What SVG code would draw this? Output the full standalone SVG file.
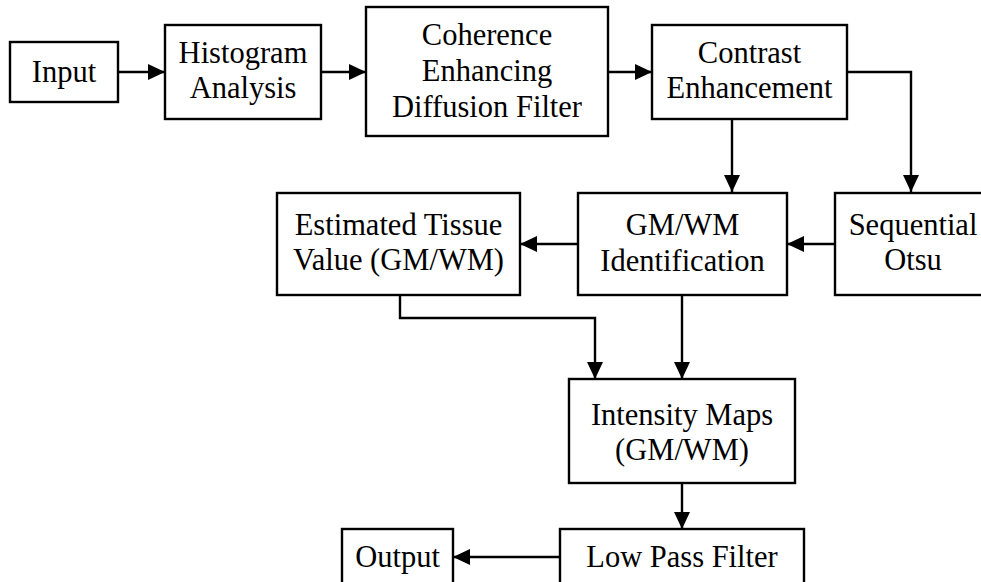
<svg xmlns="http://www.w3.org/2000/svg" width="981" height="582" viewBox="0 0 981 582">
  <defs>
    <marker id="arr" markerUnits="userSpaceOnUse" markerWidth="18" markerHeight="16" refX="17" refY="8" orient="auto">
      <path d="M0,0 L17,8 L0,16 Z" fill="#000"/>
    </marker>
    <style>
      rect { fill: #fff; stroke: #000; stroke-width: 2.4; }
      text { font-family: "Liberation Serif", "Times New Roman", serif; font-size: 30.5px; fill: #000; text-anchor: middle; }
      .c { fill: none; stroke: #000; stroke-width: 2.4; marker-end: url(#arr); }
    </style>
  </defs>
  <rect x="0" y="0" width="981" height="582" style="stroke:none;fill:#fff"/>
  <g id="connectors">
    <path class="c" d="M118,72 H165"/>
    <path class="c" d="M321,72 H366"/>
    <path class="c" d="M608,72 H652"/>
    <path class="c" d="M732,119 V192"/>
    <path class="c" d="M847,72 H911 V192"/>
    <path class="c" d="M578,244 H520"/>
    <path class="c" d="M835,244 H787"/>
    <path class="c" d="M400,295 V318 H595 V379"/>
    <path class="c" d="M682,295 V379"/>
    <path class="c" d="M682,483 V529"/>
    <path class="c" d="M560,557 H453"/>
  </g>
  <g id="input">
    <rect x="10" y="42" width="108" height="60"/>
    <text x="64" y="82">Input</text>
  </g>
  <g id="histogram">
    <rect x="165" y="25" width="156" height="94"/>
    <text x="243" y="63">Histogram</text>
    <text x="243" y="98">Analysis</text>
  </g>
  <g id="coherence">
    <rect x="366" y="7" width="242" height="129"/>
    <text x="487" y="45">Coherence</text>
    <text x="487" y="81">Enhancing</text>
    <text x="487" y="117">Diffusion Filter</text>
  </g>
  <g id="contrast">
    <rect x="652" y="25" width="195" height="94"/>
    <text x="749.5" y="63">Contrast</text>
    <text x="749.5" y="98">Enhancement</text>
  </g>
  <g id="estimated">
    <rect x="277" y="193" width="243" height="102"/>
    <text x="398.5" y="235">Estimated Tissue</text>
    <text x="398.5" y="270">Value (GM/WM)</text>
  </g>
  <g id="gmwm">
    <rect x="578" y="193" width="209" height="102"/>
    <text x="682.5" y="235">GM/WM</text>
    <text x="682.5" y="271">Identification</text>
  </g>
  <g id="sequential">
    <rect x="835" y="193" width="158" height="102"/>
    <text x="913" y="235">Sequential</text>
    <text x="913" y="270">Otsu</text>
  </g>
  <g id="intensity">
    <rect x="569" y="379" width="226" height="104"/>
    <text x="682" y="425">Intensity Maps</text>
    <text x="682" y="460">(GM/WM)</text>
  </g>
  <g id="lowpass">
    <rect x="560" y="529" width="244" height="70"/>
    <text x="682" y="567">Low Pass Filter</text>
  </g>
  <g id="output">
    <rect x="342" y="529" width="111" height="70"/>
    <text x="397.5" y="567">Output</text>
  </g>
</svg>
